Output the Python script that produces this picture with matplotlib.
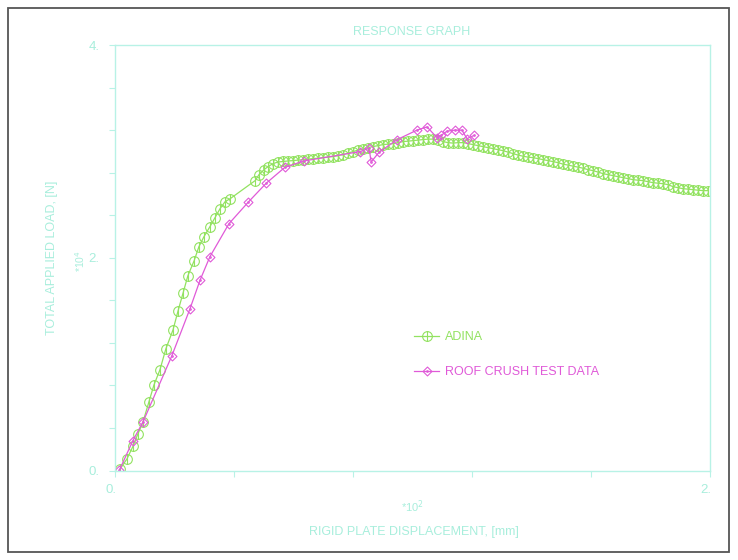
import matplotlib
matplotlib.use("Agg")
import matplotlib.pyplot as plt
from matplotlib.path import Path
from matplotlib.patches import Rectangle
from matplotlib.transforms import ScaledTranslation

# Displacement in units of 10^2 mm, load in units of 10^4 N
adina_disp = [0.017, 0.040, 0.061, 0.077, 0.094, 0.114, 0.131, 0.151, 0.171, 0.195,
              0.212, 0.229, 0.245, 0.266, 0.282, 0.299, 0.319, 0.336, 0.353, 0.370,
              0.387, 0.471, 0.484, 0.501, 0.514, 0.531, 0.548, 0.565, 0.582, 0.598,
              0.615, 0.632, 0.649, 0.666, 0.682, 0.699, 0.716, 0.733, 0.750, 0.766,
              0.783, 0.800, 0.817, 0.834, 0.850, 0.867, 0.884, 0.901, 0.918, 0.935,
              0.951, 0.968, 0.985, 1.002, 1.019, 1.035, 1.052, 1.069, 1.086, 1.103,
              1.119, 1.136, 1.153, 1.170, 1.187, 1.203, 1.220, 1.237, 1.254, 1.271,
              1.287, 1.304, 1.321, 1.338, 1.355, 1.371, 1.388, 1.405, 1.422, 1.439,
              1.456, 1.472, 1.489, 1.506, 1.523, 1.540, 1.556, 1.573, 1.590, 1.607,
              1.624, 1.640, 1.657, 1.674, 1.691, 1.708, 1.724, 1.741, 1.758, 1.775,
              1.792, 1.808, 1.825, 1.842, 1.859, 1.876, 1.892, 1.909, 1.926, 1.943,
              1.960, 1.977, 1.993]
adina_load = [0.014, 0.108, 0.231, 0.344, 0.456, 0.645, 0.805, 0.946, 1.144, 1.322,
              1.501, 1.671, 1.831, 1.972, 2.104, 2.198, 2.292, 2.376, 2.461, 2.527,
              2.555, 2.725, 2.781, 2.828, 2.856, 2.885, 2.900, 2.905, 2.910, 2.913,
              2.918, 2.922, 2.927, 2.932, 2.936, 2.941, 2.946, 2.951, 2.960, 2.969,
              2.984, 2.998, 3.012, 3.021, 3.035, 3.045, 3.054, 3.064, 3.068, 3.073,
              3.082, 3.092, 3.096, 3.101, 3.106, 3.111, 3.115, 3.115, 3.111, 3.092,
              3.082, 3.078, 3.082, 3.082, 3.073, 3.064, 3.054, 3.045, 3.035, 3.026,
              3.016, 3.007, 2.993, 2.979, 2.965, 2.955, 2.946, 2.941, 2.932, 2.922,
              2.913, 2.904, 2.894, 2.880, 2.871, 2.861, 2.852, 2.842, 2.828, 2.819,
              2.805, 2.791, 2.781, 2.772, 2.762, 2.753, 2.744, 2.734, 2.729, 2.725,
              2.715, 2.706, 2.701, 2.696, 2.687, 2.668, 2.659, 2.649, 2.645, 2.640,
              2.635, 2.631, 2.631]

test_disp = [0.015, 0.060, 0.094, 0.191, 0.252, 0.286, 0.319, 0.383, 0.447, 0.508,
             0.571, 0.635, 0.824, 0.854, 0.861, 0.887, 0.948, 1.015, 1.049, 1.082,
             1.096, 1.116, 1.143, 1.166, 1.183, 1.207]
test_load = [0.005, 0.280, 0.456, 1.078, 1.520, 1.790, 2.010, 2.320, 2.520, 2.700,
             2.850, 2.910, 2.998, 3.030, 2.900, 2.990, 3.110, 3.200, 3.230, 3.130,
             3.150, 3.190, 3.200, 3.200, 3.120, 3.150]

series_names = ["ADINA", "ROOF CRUSH TEST DATA"]

x_ticks = [0.0, 0.4, 0.8, 1.2, 1.6, 2.0]
x_tick_labels = ["0.", "", "", "", "", "2."]
y_ticks = [0.0, 0.4, 0.8, 1.2, 1.6, 2.0, 2.4, 2.8, 3.2, 3.6, 4.0]
y_tick_labels = ["0.", "", "", "", "", "2.", "", "", "", "", "4."]

CYAN = "#b8f2e6"
CYAN_TXT = "#a8eedc"
GREEN = "#92e260"
PINK = "#e05ad8"
FONT = ["Liberation Sans Narrow", "Liberation Sans", "DejaVu Sans"]
FS = 9

plt.rcParams["font.family"] = FONT

# circle crossed by a vertical stroke, and a diamond with a centre dot
circle_bar = Path.make_compound_path(
    Path.unit_circle(),
    Path([[0, -1], [0, 1]], [Path.MOVETO, Path.LINETO]),
)
dot = Path.unit_circle()
dot = Path(dot.vertices * 0.18, dot.codes)
diamond_dot = Path.make_compound_path(
    Path([[0, -1], [1, 0], [0, 1], [-1, 0], [0, -1]],
         [Path.MOVETO, Path.LINETO, Path.LINETO, Path.LINETO, Path.CLOSEPOLY]),
    dot,
)

W, H = 738, 560
fig = plt.figure(figsize=(W / 100, H / 100), dpi=100)
ax = fig.add_axes([115 / W, 1 - 470.5 / H, 595 / W, 425.5 / H])

ax.plot(adina_disp, adina_load, color=GREEN, lw=0.9, marker=circle_bar,
        markersize=7.0, markerfacecolor="none", markeredgecolor=GREEN,
        markeredgewidth=0.8, label=series_names[0])
ax.plot(test_disp, test_load, color=PINK, lw=0.9, marker=diamond_dot,
        markersize=6.4, markerfacecolor="none", markeredgecolor=PINK,
        markeredgewidth=0.8, label=series_names[1])

ax.set_xlim(0, 2)
ax.set_ylim(0, 4)
ax.set_xticks(x_ticks)
ax.set_xticklabels(x_tick_labels)
ax.set_yticks(y_ticks)
ax.set_yticklabels(y_tick_labels)
ax.tick_params(axis="both", direction="out", length=4, width=0.8,
               color=CYAN, labelcolor=CYAN_TXT, labelsize=FS + 0.5)
ax.tick_params(axis="x", pad=6)
ax.tick_params(axis="y", pad=7)
shift = ScaledTranslation(-4 / 100, 0, fig.dpi_scale_trans)
for lab in ax.get_xticklabels():
    lab.set_transform(lab.get_transform() + shift)
for s in ax.spines.values():
    s.set_color(CYAN)
    s.set_linewidth(1.0)

leg = ax.legend(loc="upper left", bbox_to_anchor=((414 - 115) / 595, (470.5 - 331) / 425.5),
                frameon=False, fontsize=FS, handlelength=2.0, handletextpad=0.5,
                labelspacing=1.85, borderpad=0, borderaxespad=0,
                labelcolor="linecolor")

fig.text(412 / W, 1 - 32 / H, "RESPONSE GRAPH", ha="center", va="center",
         color=CYAN_TXT, fontsize=FS)
fig.text(414 / W, 1 - 532 / H, "RIGID PLATE DISPLACEMENT, [mm]", ha="center",
         va="center", color=CYAN_TXT, fontsize=FS)
fig.text(412 / W, 1 - 507 / H, "*10$^{2}$", ha="center", va="center",
         color=CYAN_TXT, fontsize=8)
fig.text(52 / W, 1 - 258 / H, "TOTAL APPLIED LOAD, [N]", ha="center",
         va="center", rotation=90, color=CYAN_TXT, fontsize=FS)
fig.text(80 / W, 1 - 261 / H, "*10$^{4}$", ha="center", va="center",
         rotation=90, color=CYAN_TXT, fontsize=7.5)

fig.patches.append(Rectangle((8 / W, 8 / H), (729 - 8) / W, (552 - 8) / H,
                             transform=fig.transFigure, fill=False,
                             edgecolor="#555555", linewidth=1.3))

fig.savefig("out.png", dpi=100)
